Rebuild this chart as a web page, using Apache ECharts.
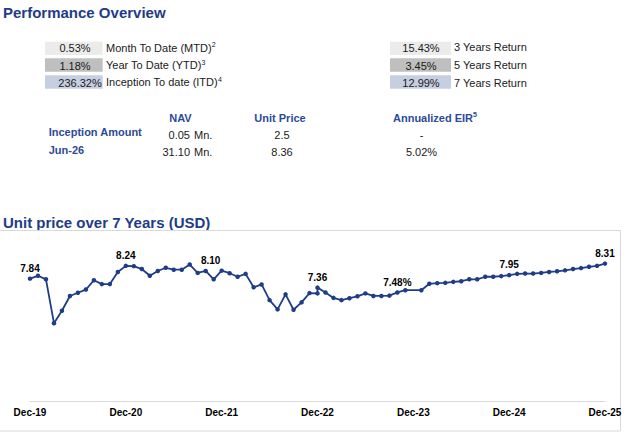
<!DOCTYPE html>
<html>
<head>
<meta charset="utf-8">
<script src="https://cdn.jsdelivr.net/npm/echarts@6/dist/echarts.min.js"></script>
<style>
html,body{margin:0;padding:0;background:#fff;}
#c{width:627px;height:446px;}
</style>
</head>
<body>
<div id="c"></div>
<script>
// ---- data ----
const xTickLabels = ['Dec-19','Dec-20','Dec-21','Dec-22','Dec-23','Dec-24','Dec-25'];
// months since Dec-19 for each point
const monthIndex = [0,1,2,3,4,5,6,7,8,9,10,11,12,13,14,15,16,17,18,19,20,21,22,23,24,25,26,27,28,29,30,31,32,33,34,35,36,36,37,38,39,40,41,42,43,44,45,46,47,49,50,51,52,53,54,55,56,57,58,59,60,61,62,63,64,65,66,67,68,69,70,71,72];
const unitPrice = [7.84,7.93,7.82,6.45,6.84,7.30,7.40,7.50,7.79,7.67,7.67,8.05,8.24,8.23,8.14,7.93,8.08,8.18,8.12,8.12,8.28,8.02,8.08,7.82,8.09,8.01,7.90,7.99,7.57,7.66,7.17,6.88,7.35,6.87,7.10,7.39,7.38,7.56,7.41,7.24,7.17,7.23,7.29,7.38,7.30,7.30,7.31,7.41,7.48,7.48,7.68,7.70,7.71,7.74,7.76,7.82,7.82,7.90,7.90,7.92,7.95,7.99,8.00,8.00,8.02,8.05,8.07,8.10,8.14,8.17,8.21,8.24,8.31];
const labelPos = [0,12,22,37,47,60,72];
const labelText = ['7.84','8.24','8.10','7.36','7.48%','7.95','8.31'];

const periodValues = ['0.53%','1.18%','236.32%'];
const periodNames = ['Month To Date (MTD)','Year To Date (YTD)','Inception To date (ITD)'];
const periodNotes = ['2','3','4'];
const yearValues = ['15.43%','3.45%','12.99%'];
const yearNames = ['3 Years Return','5 Years Return','7 Years Return'];
const tableHeaders = ['NAV','Unit Price','Annualized EIR'];
const tableRows = ['Inception Amount','Jun-26'];
const navValues = ['0.05','31.10'];
const unitValues = ['2.5','8.36'];
const eirValues = ['-','5.02%'];

// ---- layout ----
const FF = '"Liberation Sans", Arial, sans-serif';
const NAVY = '#1F3C88';
const NAVY2 = '#2C4A9A';
const boxFills = ['#EBEBEB','#BFBFBF','#C6CEE1'];
const rowTop = [41.7, 58.3, 75.3];
const rowValY = [48.3, 65.8, 82.8];
const leftValX = [75, 75, 80];
const rightLabY = [46.6, 64.6, 83];

const g = [];
function txt(x, y, text, opt) {
  opt = opt || {};
  g.push({type:'text', x:x, y:y, style:Object.assign({
    text:text, fontFamily:FF, fontSize:11, fill:'#1a1a1a',
    align:'left', verticalAlign:'middle'}, opt)});
}
function sup(x, y, text, note, opt) {
  opt = opt || {};
  g.push({type:'text', x:x, y:y, style:{
    text:'{a|' + text + '}{s|' + note + '}', fontFamily:FF,
    align:'left', verticalAlign:'middle',
    rich:{
      a:{fontSize:opt.fontSize||11, fontWeight:opt.fontWeight||'normal', fill:opt.fill||'#1a1a1a', lineHeight:13, fontFamily:FF},
      s:{fontSize:7, fontWeight:opt.fontWeight||'normal', fill:opt.fill||'#1a1a1a', lineHeight:7, verticalAlign:'top', fontFamily:FF}
    }}});
}
function rect(x, y, w, h, fill) {
  g.push({type:'rect', shape:{x:x, y:y, width:w, height:h}, style:{fill:fill}});
}
function line(x1, y1, x2, y2) {
  g.push({type:'line', shape:{x1:x1, y1:y1, x2:x2, y2:y2}, style:{stroke:'#D9D9D9', lineWidth:1}});
}

txt(3, 12.8, 'Performance Overview', {fontSize:15, fontWeight:'bold', fill:NAVY});
for (let i = 0; i < 3; i++) {
  rect(45, rowTop[i], 57.7, 13.4, boxFills[i]);
  txt(leftValX[i], rowValY[i], periodValues[i], {align:'center'});
  sup(106, rowValY[i] - 0.5, periodNames[i], periodNotes[i]);
  rect(390, rowTop[i], 61, 13.4, boxFills[i]);
  txt(421, rowValY[i], yearValues[i], {align:'center'});
  txt(454, rightLabY[i], yearNames[i]);
}
txt(180.5, 118.3, tableHeaders[0], {align:'center', fontWeight:'bold', fill:NAVY2});
txt(280, 118.3, tableHeaders[1], {align:'center', fontWeight:'bold', fill:NAVY2});
sup(393, 117.5, tableHeaders[2], '5', {fontWeight:'bold', fill:NAVY2});
const rowLabY = [132.2, 150];
const rowNumY = [134.5, 151.7];
for (let i = 0; i < 2; i++) {
  txt(48.7, rowLabY[i], tableRows[i], {fontWeight:'bold', fill:NAVY2});
  txt(190, rowNumY[i], navValues[i], {align:'right'});
  txt(194, rowNumY[i], 'Mn.');
  txt(282, rowNumY[i], unitValues[i], {align:'center'});
  txt(421.5, rowNumY[i], eirValues[i], {align:'center'});
}
txt(3, 222, 'Unit price over 7 Years (USD)', {fontSize:15, fontWeight:'bold', fill:NAVY});
line(0, 230.5, 620.5, 230.5);
line(620.5, 230.5, 620.5, 431);
line(0, 431, 620.5, 431);

const seriesData = monthIndex.map((m, i) => {
  const k = labelPos.indexOf(i);
  const item = {value:[m, unitPrice[i]]};
  if (k >= 0) {
    item.label = {show:true, formatter:labelText[k]};
    if (labelText[k] === '8.10') item.label.offset = [5, 0];
  }
  return item;
});

const chart = echarts.init(document.getElementById('c'), null, {renderer:'svg'});
chart.setOption({
  animation:false,
  grid:{left:30, right:22, top:241.5, bottom:44.3, containLabel:false},
  xAxis:{type:'value', min:0, max:72, interval:12,
    axisLine:{show:true, lineStyle:{color:'#D9D9D9', width:1}},
    axisTick:{show:false}, splitLine:{show:false},
    axisLabel:{show:true, margin:6, fontFamily:FF, fontSize:10, fontWeight:'bold', color:'#000',
      showMinLabel:true, showMaxLabel:true,
      formatter:(v) => xTickLabels[Math.round(v / 12)] || ''}},
  yAxis:{type:'value', min:4, max:9, show:false, splitLine:{show:false}},
  series:[{type:'line', data:seriesData, symbol:'circle', symbolSize:4.5,
    lineStyle:{color:NAVY, width:1.8}, itemStyle:{color:NAVY},
    label:{show:false, position:'top', distance:3, fontFamily:FF, fontSize:10, fontWeight:'bold', color:'#000'}}],
  graphic:g
});
</script>
</body>
</html>
